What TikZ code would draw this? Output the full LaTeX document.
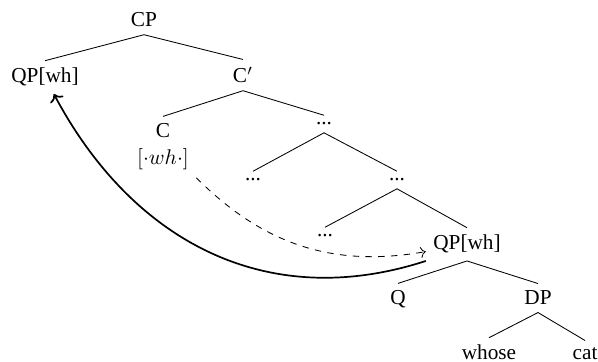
\documentclass[tikz,border=0pt]{standalone}
\usepackage{fontspec}
\setmainfont{Liberation Serif}
\usepackage{tikz}
\usetikzlibrary{arrows.meta,positioning}

\begin{document}
\begin{tikzpicture}[
    x=0.47pt, y=-0.47pt,
    cat/.style={anchor=base, font=\normalsize},
    branch/.style={thin},
    move/.style={->, thick},
    agree/.style={->, dashed, thin}
]
\useasboundingbox (0,0) rectangle (598,362);

\node[cat] (cp) at (144,27) {CP};
\node[cat] (qpa) at (45,83) {QP[wh]};
\node[cat] (cbar) at (243,83) {C$'$};
\node[cat] (c) at (163,138) {C};
\node[cat] (cfeat) at (163,165) {$[\cdot wh\cdot]$};
\node[cat] (da) at (324,125) {...};
\node[cat] (db) at (253,181) {...};
\node[cat] (dc) at (397,181) {...};
\node[cat] (dd) at (325,237) {...};
\node[cat] (qpb) at (467,250) {QP[wh]};
\node[cat] (q) at (398,305) {Q};
\node[cat] (dp) at (538,305) {DP};
\node[cat] (whose) at (489,360) {whose};
\node[cat] (noun) at (585,360) {cat};

\draw[branch] (cp.south) -- (qpa.north);
\draw[branch] (cp.south) -- (cbar.north);
\draw[branch] (cbar.south) -- (c.north);
\draw[branch] (cbar.south) -- (da.north);
\draw[branch] (da.south) -- (db.north);
\draw[branch] (da.south) -- (dc.north);
\draw[branch] (dc.south) -- (dd.north);
\draw[branch] (dc.south) -- (qpb.north);
\draw[branch] (qpb.south) -- (q.north);
\draw[branch] (qpb.south) -- (dp.north);
\draw[branch] (dp.south) -- (whose.north);
\draw[branch] (dp.south) -- (noun.north);

% movement and agreement
\draw[move] (qpb.south west) to[out=-162, in=-62, looseness=1.05] (qpa);
\draw[agree] (cfeat.south east) to[out=-45, in=190] (qpb);
\end{tikzpicture}
\end{document}
